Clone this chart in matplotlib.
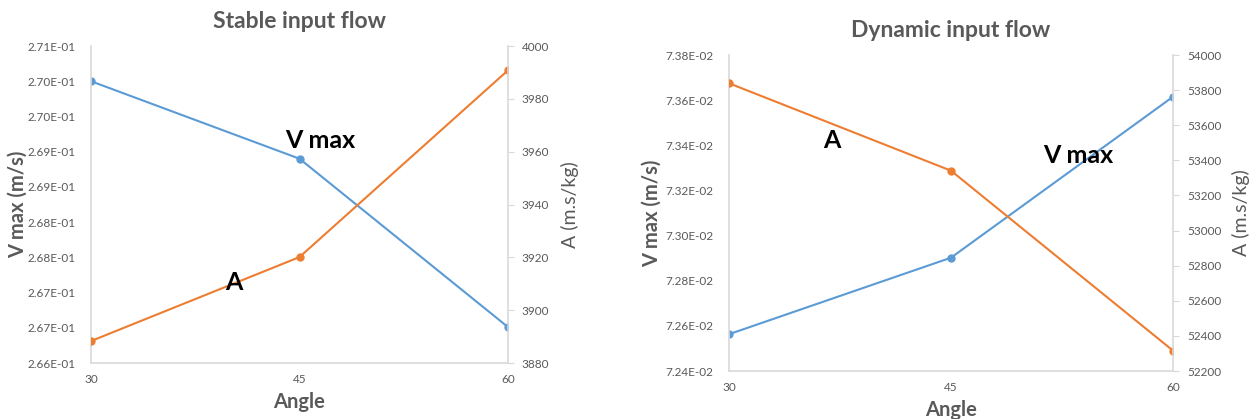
import matplotlib.pyplot as plt

# -------------------------------
# Data
# -------------------------------
angles = [30, 45, 60]

stable_vmax = [0.2705, 0.2694, 0.26701]
stable_a = [3888.3, 3920.1, 3990.8]
stable_vmax_ticks = [0.2665, 0.2670, 0.2675, 0.2680, 0.2685, 0.2690, 0.2695, 0.2700, 0.2705, 0.2710]
stable_vmax_labels = ["2.66E-01", "2.67E-01", "2.67E-01", "2.68E-01", "2.68E-01",
                      "2.69E-01", "2.69E-01", "2.70E-01", "2.70E-01", "2.71E-01"]
stable_a_ticks = [3880, 3900, 3920, 3940, 3960, 3980, 4000]

dynamic_vmax = [0.072563, 0.072902, 0.073615]
dynamic_a = [53839, 53341, 52316]
dynamic_vmax_ticks = [0.0724, 0.0726, 0.0728, 0.0730, 0.0732, 0.0734, 0.0736, 0.0738]
dynamic_vmax_labels = ["7.24E-02", "7.26E-02", "7.28E-02", "7.30E-02",
                       "7.32E-02", "7.34E-02", "7.36E-02", "7.38E-02"]
dynamic_a_ticks = [52200, 52400, 52600, 52800, 53000, 53200, 53400, 53600, 53800, 54000]

BLUE = "#5B9BD5"
ORANGE = "#ED7D31"
GRAY = "#595959"
AXIS = "#D9D9D9"

plt.rcParams["font.family"] = ["Lato", "DejaVu Sans"]

W, H = 1253, 419


def panel(fig, box, title, vmax, a, vticks, vlabels, aticks, ann_v, ann_a, ypad):
    x0, y0, x1, y1 = box
    ax = fig.add_axes([x0 / W, (H - y1) / H, (x1 - x0) / W, (y1 - y0) / H])
    ax2 = ax.twinx()

    ax.plot(angles, vmax, color=BLUE, lw=1.5, marker="o", ms=5)
    ax2.plot(angles, a, color=ORANGE, lw=1.5, marker="o", ms=5)

    ax.set_xlim(angles[0], angles[-1])
    ax.set_xticks(angles)
    ax.set_ylim(vticks[0], vticks[-1])
    ax.set_yticks(vticks)
    ax.set_yticklabels(vlabels)
    ax2.set_ylim(aticks[0], aticks[-1])
    ax2.set_yticks(aticks)

    for a_ in (ax, ax2):
        a_.spines["top"].set_visible(False)
        for s in ("left", "right", "bottom"):
            a_.spines[s].set_color(AXIS)
            a_.spines[s].set_linewidth(1.2)
    ax.spines["right"].set_visible(False)
    ax2.spines["left"].set_visible(False)
    ax2.spines["bottom"].set_visible(False)

    ax.tick_params(axis="y", length=0, pad=11, labelsize=8.5, labelcolor=GRAY)
    ax.tick_params(axis="x", length=0, pad=8, labelsize=8.5, labelcolor=GRAY)
    ax2.tick_params(axis="y", length=4, color=AXIS, pad=6, labelsize=8.5, labelcolor=GRAY)

    ax.set_title(title, fontsize=16.5, fontweight="bold", color=GRAY, pad=13)
    ax.set_xlabel("Angle", fontsize=14.5, fontweight="bold", color=GRAY, labelpad=5)
    ax.set_ylabel("V max (m/s)", fontsize=14.5, fontweight="bold", color=GRAY, labelpad=ypad)
    ax2.set_ylabel("A (m.s/kg)", fontsize=14, color=GRAY, labelpad=8)

    fig.text(ann_v[0] / W, 1 - ann_v[1] / H, "V max", fontsize=18, fontweight="bold",
             ha="center", va="center", color="black")
    fig.text(ann_a[0] / W, 1 - ann_a[1] / H, "A", fontsize=18, fontweight="bold",
             ha="center", va="center", color="black")
    return ax


fig = plt.figure(figsize=(W / 100, H / 100), dpi=100)

panel(fig, (91, 46, 508, 363), "Stable input flow", stable_vmax, stable_a,
      stable_vmax_ticks, stable_vmax_labels, stable_a_ticks, (320, 140), (234, 282), 0)
panel(fig, (729, 55, 1173, 371), "Dynamic input flow", dynamic_vmax, dynamic_a,
      dynamic_vmax_ticks, dynamic_vmax_labels, dynamic_a_ticks, (1078, 155), (832, 140), 3)

fig.savefig("out.png", dpi=100)
plt.close(fig)
